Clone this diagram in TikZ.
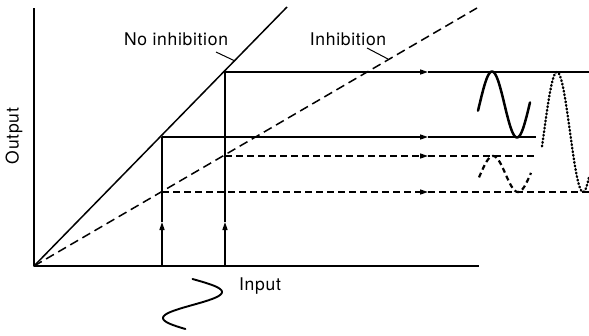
\documentclass[tikz,border=0pt]{standalone}
\usepackage{fontspec}
\setmainfont{TeX Gyre Heros}
\newfontfamily\lblfont[LetterSpace=4]{TeX Gyre Heros}
\usetikzlibrary{arrows.meta}

\tikzset{
  axisline/.style={line width=1.6pt},
  gainline/.style={line width=1.5pt},
  lowgain/.style={line width=1.5pt, dash pattern=on 9pt off 5pt},
  lowlevel/.style={line width=1.5pt, dash pattern=on 7pt off 4pt},
  tip/.style={-{Triangle[length=8pt,width=5pt]}},
  lbl/.style={font=\lblfont\fontsize{17.5}{20}\selectfont, inner sep=0pt}
}

\begin{document}
\begin{tikzpicture}[x=1pt, y=-1pt, line join=round, line cap=butt]
  \useasboundingbox (0,0) rectangle (589,335);
  % ========================================================
  % 0. COORDINATES (pixel grid, y grows downwards)
  % ========================================================
  \coordinate (O) at (34,266);
  \coordinate (Ytop) at (34,8);
  \coordinate (Xend) at (479,266);

  % gain lines
  \coordinate (NItop) at (287,7);
  \coordinate (Itop) at (477,8);

  % the two input levels
  \coordinate (A0) at (162,266);
  \coordinate (B0) at (225,266);
  \coordinate (A1) at (162,137);   % on the no-inhibition line
  \coordinate (B1) at (225,72);
  \coordinate (A2) at (162,192);   % on the inhibition line
  \coordinate (B2) at (225,156);

  % arrow points
  \coordinate (Am) at (162,222);
  \coordinate (Bm) at (225,222);
  \coordinate (B1m) at (428,72);
  \coordinate (A1m) at (428,137);
  \coordinate (B2m) at (428,156);
  \coordinate (A2m) at (428,192);

  % right ends of the output levels
  \coordinate (B1r) at (589,72);
  \coordinate (A1r) at (536,137);
  \coordinate (B2r) at (536,156);
  \coordinate (A2r) at (589,192);

  % ========================================================
  % 1. AXES AND GAIN LINES
  % ========================================================
  \draw[axisline] (Ytop) -- (O) -- (Xend);
  \draw[gainline] (O) -- (NItop);
  \draw[lowgain] (O) -- (Itop);

  % ========================================================
  % 2. INPUT LEVELS AND THE OUTPUTS THEY GIVE
  % ========================================================
  \draw[gainline, tip] (A0) -- (Am);
  \draw[gainline] (Am) -- (A1);
  \draw[gainline, tip] (B0) -- (Bm);
  \draw[gainline] (Bm) -- (B1);

  \draw[gainline, tip] (B1) -- (B1m);
  \draw[gainline] (B1m) -- (B1r);
  \draw[gainline, tip] (A1) -- (A1m);
  \draw[gainline] (A1m) -- (A1r);
  \draw[lowlevel, tip] (B2) -- (B2m);
  \draw[lowlevel] (B2m) -- (B2r);
  \draw[lowlevel, tip] (A2) -- (A2m);
  \draw[lowlevel] (A2m) -- (A2r);

  % ========================================================
  % 3. WAVEFORMS
  % ========================================================
  % input swing
  \draw[line width=1.9pt, line cap=round] plot[domain=279:329, samples=60, smooth]
    ({192.5+29.5*sin((\x-279)/52*360)}, \x);
  % output, no inhibition
  \draw[line width=2.5pt, line cap=round] plot[domain=478:530, samples=60, smooth]
    (\x, {104.5-33*sin((\x-479.5)/50*360)});
  % output, inhibition
  \draw[line width=2.2pt, dash pattern=on 5pt off 3.5pt] plot[domain=479:531, samples=60, smooth]
    (\x, {174-18*sin((\x-480.5)/50*360)});
  % difference swing
  \draw[line width=2.4pt, line cap=round, dash pattern=on 0.8pt off 2.8pt] plot[domain=542:589, samples=80, smooth]
    (\x, {132-60*sin((\x-544)/52*360)});

  % ========================================================
  % 4. LABELS
  % ========================================================
  \node[lbl] (noinh) at (176,39) {No inhibition};
  \node[lbl] (inh) at (348,39) {Inhibition};
  \node[lbl, rotate=90] (outlab) at (14,136) {Output};
  \node[lbl] (inlab) at (260,286) {Input};

  \coordinate (NIlead) at (235,61);
  \coordinate (Ilead) at (388,59);
  \draw[line width=1pt] (216,52) -- (NIlead);
  \draw[line width=1pt] (367,48) -- (Ilead);

\end{tikzpicture}
\end{document}
